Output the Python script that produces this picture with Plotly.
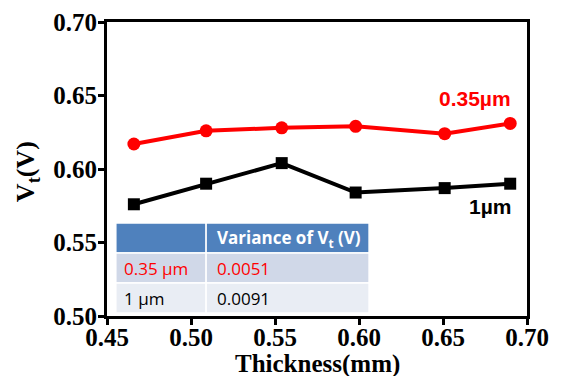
import plotly.graph_objects as go

thickness = [0.466, 0.509, 0.554, 0.598, 0.651, 0.690]
vt_035 = [0.617, 0.626, 0.628, 0.629, 0.624, 0.631]
vt_1 = [0.576, 0.590, 0.604, 0.584, 0.587, 0.590]
xticks = [0.45, 0.50, 0.55, 0.60, 0.65, 0.70]
yticks = [0.50, 0.55, 0.60, 0.65, 0.70]
table_rows = [["0.35 µm", "0.0051"], ["1 µm", "0.0091"]]
table_header = ["", "Variance of V<sub>t</sub> (V)"]

fig = go.Figure()
fig.add_trace(go.Scatter(x=thickness, y=vt_035, mode="lines+markers",
                         line=dict(color="#FF0000", width=4),
                         marker=dict(symbol="circle", size=13, color="#FF0000"),
                         showlegend=False, cliponaxis=False))
fig.add_trace(go.Scatter(x=thickness, y=vt_1, mode="lines+markers",
                         line=dict(color="#000000", width=4),
                         marker=dict(symbol="square", size=12, color="#000000"),
                         showlegend=False, cliponaxis=False))

serif = "Liberation Serif, Times New Roman, serif"
sans = "Liberation Sans, Arial, sans-serif"
tsans = "Open Sans, Liberation Sans, sans-serif"

axis_common = dict(showline=True, linewidth=3, linecolor="black", mirror=True,
                   ticks="outside", ticklen=6, tickwidth=3, tickcolor="black",
                   showgrid=False, zeroline=False, automargin=False,
                   tickfont=dict(family=serif, size=25, color="black", weight="bold"))

fig.update_xaxes(range=[0.45, 0.70], tickvals=xticks,
                 ticktext=[f"{v:.2f}" for v in xticks],
                 ticklabelstandoff=-9, **axis_common)
fig.update_yaxes(range=[0.50, 0.70], tickvals=yticks,
                 ticktext=[f"{v:.2f}" for v in yticks],
                 ticklabelstandoff=-4, **axis_common)

# table shapes (paper coords)
x0, x1, x2 = 0.021, 0.236, 0.624
ys = [0.316, 0.214, 0.112, 0.010]
fills = ["#4F81BD", "#D0D8E8", "#E9EDF4"]
shapes = []
for i in range(3):
    for (a, b) in [(x0, x1), (x1, x2)]:
        shapes.append(dict(type="rect", xref="paper", yref="paper",
                           x0=a, x1=b, y0=ys[i + 1], y1=ys[i],
                           fillcolor=fills[i], line=dict(color="white", width=1.5),
                           layer="below"))
fig.update_layout(shapes=shapes)

annotations = []
rows = [table_header] + table_rows
colors = [["white", "white"], ["#FF0000", "#FF0000"], ["black", "black"]]
for i, row in enumerate(rows):
    yc = (ys[i] + ys[i + 1]) / 2
    for j, txt in enumerate(row):
        if not txt:
            continue
        xl = (x0 + 0.015) if j == 0 else (x1 + 0.02)
        annotations.append(dict(xref="paper", yref="paper", x=xl, y=yc,
                                xanchor="left", yanchor="middle", showarrow=False,
                                text=f"<b>{txt}</b>" if i == 0 else txt,
                                font=dict(family=tsans, size=17, color=colors[i][j])))

annotations.append(dict(xref="paper", yref="paper", x=0.966, y=0.741,
                        xanchor="right", yanchor="middle", showarrow=False,
                        text="<b>0.35µm</b>",
                        font=dict(family=sans, size=21, color="#FF0000")))
annotations.append(dict(xref="paper", yref="paper", x=0.966, y=0.371,
                        xanchor="right", yanchor="middle", showarrow=False,
                        text="<b>1µm</b>",
                        font=dict(family=sans, size=21, color="black")))
# axis titles
annotations.append(dict(xref="paper", yref="paper", x=0.5, y=-0.162,
                        xanchor="center", yanchor="middle", showarrow=False,
                        text="<b>Thickness(mm)</b>",
                        font=dict(family=serif, size=25, color="black")))
annotations.append(dict(xref="paper", yref="paper", x=-0.19, y=0.49,
                        xanchor="center", yanchor="middle", showarrow=False,
                        textangle=-90, text="<b>V<sub>t</sub>(V)</b>",
                        font=dict(family=serif, size=26, color="black")))
fig.update_layout(annotations=annotations)

# page body has an 8px margin, so the figure is sized to fit the window
fig.update_layout(width=560, height=368,
                  margin=dict(l=99, r=41, t=14, b=60),
                  plot_bgcolor="white", paper_bgcolor="white")

fig.write_html("out.html")
